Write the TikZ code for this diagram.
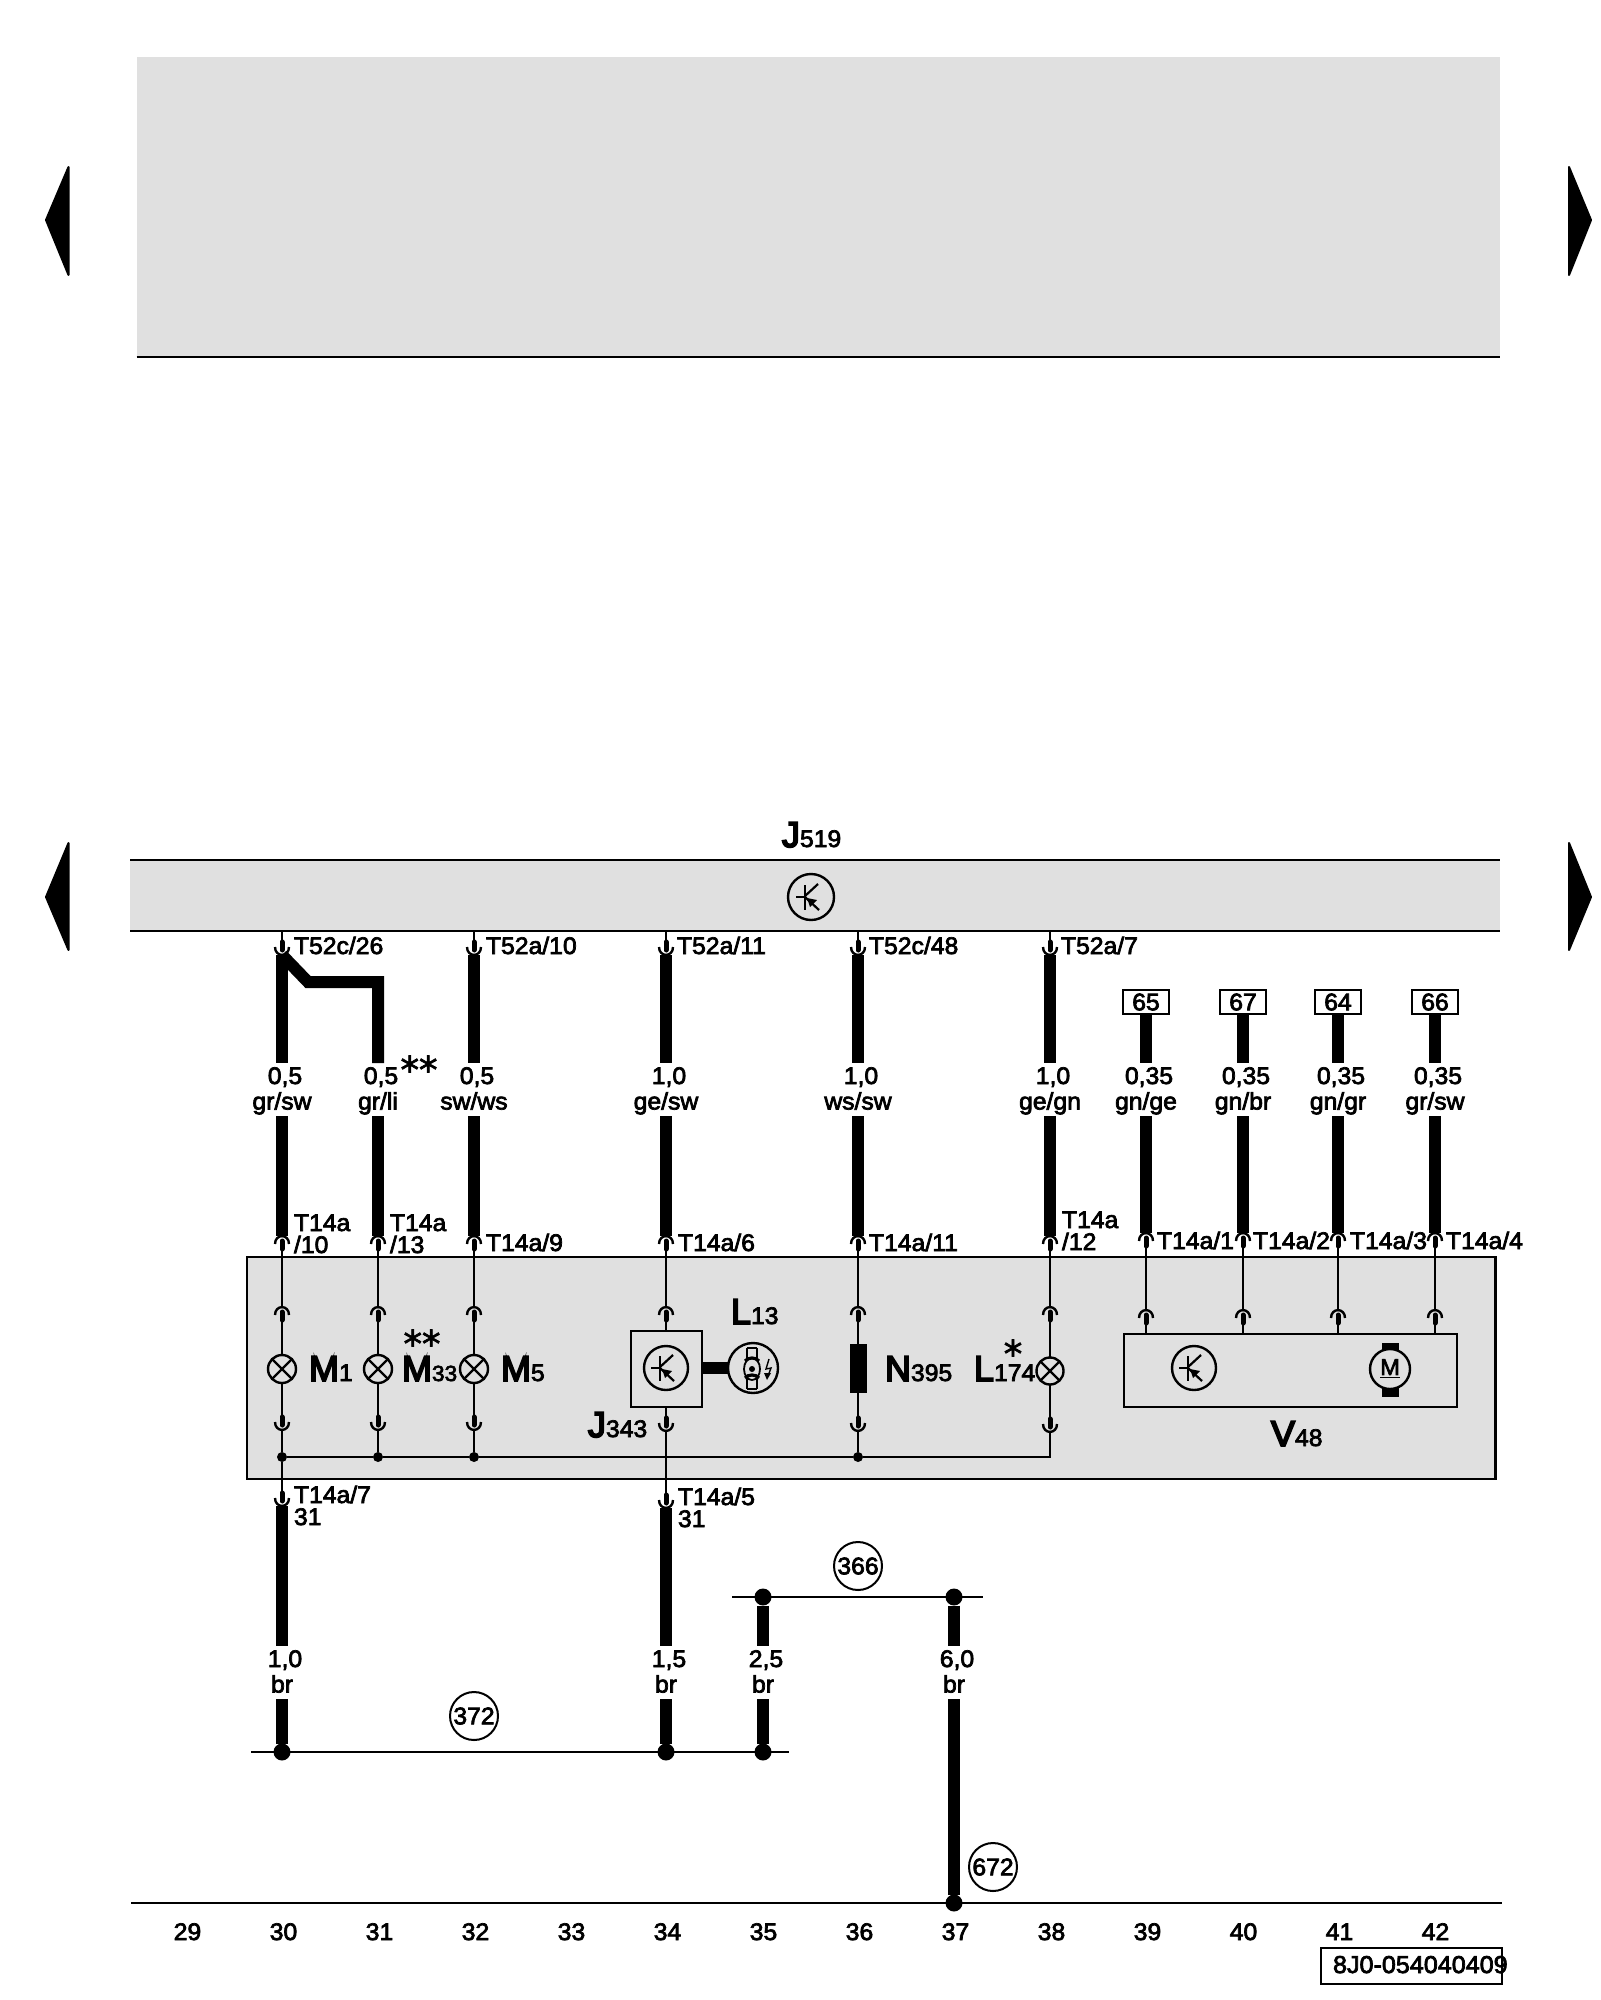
\documentclass[tikz,border=0pt]{standalone}
\usepackage{fontspec}
\setmainfont{Liberation Sans}
\newfontfamily\labf{Liberation Sans}[FakeBold=3,FakeStretch=1.03]
\newfontfamily\bigf{Liberation Sans}[FakeBold=5]
\newfontfamily\starf{DejaVu Sans}[FakeBold=2]
\definecolor{panel}{HTML}{E0E0E0}
\tikzset{
  hv/.style={line width=6pt,line cap=butt,line join=miter,black},
  fine/.style={line width=1pt,black},
  frame/.style={line width=1.1pt,black},
  pinbox/.style={inner sep=0pt,outer sep=0pt,minimum width=7pt,minimum height=7.5pt},
  pinarc/.style={line width=1.2pt,black},
  pinstub/.style={line width=2.5pt,black,line cap=round},
  lbl/.style={inner sep=0pt,outer sep=0pt,anchor=base west,font=\labf\fontsize{12}{13}\selectfont},
  ctr/.style={inner sep=0pt,outer sep=0pt,anchor=base,font=\labf\fontsize{12}{13}\selectfont},
  gaugebox/.style={inner sep=0pt,outer sep=0pt,minimum width=36pt,minimum height=26.5pt,font=\labf\fontsize{12}{13}\selectfont},
  lamp/.style={circle,draw,line width=1.2pt,inner sep=0pt,outer sep=0pt,minimum size=14pt,
    path picture={\draw[line width=1.1pt] (path picture bounding box.north west)--(path picture bounding box.south east)
      (path picture bounding box.north east)--(path picture bounding box.south west);}},
  tran/.style={circle,draw,line width=1.2pt,inner sep=0pt,outer sep=0pt,minimum size=22pt},
  junc/.style={circle,fill=black,inner sep=0pt,outer sep=0pt,minimum size=5pt},
  bigdot/.style={circle,fill=black,inner sep=0pt,outer sep=0pt,minimum size=8.5pt},
  refc/.style={circle,draw,line width=1pt,inner sep=0pt,outer sep=0pt,minimum size=24pt,font=\labf\fontsize{12}{13}\selectfont},
  tag/.style={draw,line width=1pt,inner sep=0pt,outer sep=0pt,minimum width=23pt,minimum height=12pt,font=\labf\fontsize{12}{13}\selectfont},
  bigl/.style={inner sep=0pt,outer sep=0pt,anchor=base west},
  stars/.style={inner sep=0pt,outer sep=0pt,anchor=base,font=\starf\fontsize{18.5}{20}\selectfont},
  nav/.style={fill=black,draw=black,line width=1pt,line join=round},
}
% #1 name, #2 x, #3 y of arch top
\newcommand\pinup[3]{%
  \node[pinbox] (#1) at (#2,#3+7.5) {};
  \draw[pinarc] (#2-7,#3+8) .. controls (#2-7,#3-2.5) and (#2+7,#3-2.5) .. (#2+7,#3+8);
  \draw[pinstub] (#2,#3+5) -- (#2,#3+13);
}
% #1 name, #2 x, #3 y of arc bottom
\newcommand\pindn[3]{%
  \node[pinbox] (#1) at (#2,#3-7.5) {};
  \draw[pinarc] (#2-7,#3-8) .. controls (#2-7,#3+2.5) and (#2+7,#3+2.5) .. (#2+7,#3-8);
  \draw[pinstub] (#2,#3-13) -- (#2,#3-5);
}
% #1 name, #2 x, #3 y top, #4 upper text, #5 lower text
\newcommand\gauge[5]{%
  \node[gaugebox] (#1) at (#2,#3+26.5) {\vbox to 26.5pt{\offinterlineskip\vskip 10.5pt
    \hbox to 36pt{\hss\kern3pt\smash{#4}\hss}\vskip 12.75pt
    \hbox to 36pt{\hss\smash{#5}\hss}\vss}};
}
\newcommand\biglab[6][12]{%
  \node[bigl] (#2) at (#3,#4) {{\bigf\fontsize{18}{20}\selectfont #5}{\labf\fontsize{#1}{13}\selectfont #6}};
}
% transistor glyph inside a circle centred on #1,#2
\newcommand\trans[2]{%
  \draw[line width=1.1pt] (#1-15,#2) -- (#1-6,#2);
  \draw[line width=1.1pt] (#1-6,#2-12) -- (#1-6,#2+13);
  \draw[line width=1.1pt] (#1-6,#2-1) -- (#1+7,#2-13);
  \draw[line width=1.1pt] (#1-6,#2) -- (#1+8,#2+13);
  \fill (#1-4,#2+1) -- (#1+6,#2+3) -- (#1-1,#2+10) -- cycle;
}
\begin{document}
\begin{tikzpicture}[x=0.5pt,y=-0.5pt]
\useasboundingbox (0,0) rectangle (1600,2000);
% panels
\fill[panel] (136.5,57) rectangle (1500,357);
\draw[frame] (136.5,357) -- (1500,357);
\fill[panel] (130,860) rectangle (1500,931);
\draw[frame] (130,860) -- (1500,860) (130,931) -- (1500,931);
\draw[frame,fill=panel] (247,1257) rectangle (1495.5,1479);
% page arrows
\draw[nav] (68.5,167) -- (46,220) -- (68.5,275) -- cycle;
\draw[nav] (68.5,843) -- (46,897) -- (68.5,950) -- cycle;
\draw[nav] (1569,167) -- (1591,220) -- (1569,275) -- cycle;
\draw[nav] (1569,843) -- (1591,897) -- (1569,950) -- cycle;
% J519
\biglab{J519}{782}{847}{J}{519}
\node[tran,minimum size=23pt] (jt) at (811,897) {};
\trans{811}{897}
% upper connector row
\pindn{a1}{282}{955} \pindn{a3}{474}{955} \pindn{a4}{666}{955} \pindn{a5}{858}{955} \pindn{a6}{1050}{955}
\coordinate (s1) at (282,931); \coordinate (s3) at (474,931); \coordinate (s4) at (666,931);
\coordinate (s5) at (858,931); \coordinate (s6) at (1050,931);
\foreach \n in {1,3,4,5,6} {\draw[fine] (s\n) -- (a\n.north);}
\node[lbl] (ta1) at (294,954) {T52c/26};
\node[lbl] (ta3) at (486,954) {T52a/10};
\node[lbl] (ta4) at (677,954) {T52a/11};
\node[lbl] (ta5) at (869,954) {T52c/48};
\node[lbl] (ta6) at (1061,954) {T52a/7};
% tags
\node[tag] (k1) at (1146,1002) {65};
\node[tag] (k2) at (1243,1002) {67};
\node[tag] (k3) at (1338,1002) {64};
\node[tag] (k4) at (1435,1002) {66};
% gauges
\gauge{g1}{282}{1063}{0,5}{gr/sw}
\gauge{g2}{378}{1063}{0,5}{gr/li}
\gauge{g3}{474}{1063}{0,5}{sw/ws}
\gauge{g4}{666}{1063}{1,0}{ge/sw}
\gauge{g5}{858}{1063}{1,0}{ws/sw}
\gauge{g6}{1050}{1063}{1,0}{ge/gn}
\gauge{g7}{1146}{1063}{0,35}{gn/ge}
\gauge{g8}{1243}{1063}{0,35}{gn/br}
\gauge{g9}{1338}{1063}{0,35}{gn/gr}
\gauge{g10}{1435}{1063}{0,35}{gr/sw}
\node[stars] (st1) at (419,1083) {**};
% T14a connector row
\pinup{b1}{282}{1236} \pinup{b2}{378}{1236} \pinup{b3}{474}{1236} \pinup{b4}{666}{1236} \pinup{b5}{858}{1236} \pinup{b6}{1050}{1236}
\pinup{b7}{1146}{1233} \pinup{b8}{1243}{1233} \pinup{b9}{1338}{1233} \pinup{b10}{1435}{1233}
% thick wires, upper
\coordinate (kink) at (308,982); \coordinate (elbow) at (378,982);
\draw[hv] (a1.south) -- (g1.north);
\draw[hv] (a1.south) -- (kink) -- (elbow) -- (g2.north);
\draw[hv] (a3.south) -- (g3.north);
\draw[hv] (a4.south) -- (g4.north);
\draw[hv] (a5.south) -- (g5.north);
\draw[hv] (a6.south) -- (g6.north);
\draw[hv] (k1.south) -- (g7.north);
\draw[hv] (k2.south) -- (g8.north);
\draw[hv] (k3.south) -- (g9.north);
\draw[hv] (k4.south) -- (g10.north);
\foreach \n in {1,...,10} {\draw[hv] (g\n.south) -- (b\n.north);}
% T14a labels
\node[lbl] (c1) at (294,1231) {T14a}; \node[lbl] (c1b) at (294,1253) {/10};
\node[lbl] (c2) at (390,1231) {T14a}; \node[lbl] (c2b) at (390,1253) {/13};
\node[lbl] (c3) at (486,1251) {T14a/9};
\node[lbl] (c4) at (678,1251) {T14a/6};
\node[lbl] (c5) at (869,1251) {T14a/11};
\node[lbl] (c6) at (1062,1228) {T14a}; \node[lbl] (c6b) at (1062,1250) {/12};
\node[lbl] (c7) at (1157,1249) {T14a/1};
\node[lbl] (c8) at (1253,1249) {T14a/2};
\node[lbl] (c9) at (1350,1249) {T14a/3};
\node[lbl] (c10) at (1446,1249) {T14a/4};
% inner pins
\pinup{d1}{282}{1307} \pinup{d2}{378}{1307} \pinup{d3}{474}{1307} \pinup{d4}{666}{1307} \pinup{d5}{858}{1307} \pinup{d6}{1050}{1307}
\pinup{d7}{1146}{1310} \pinup{d8}{1243}{1310} \pinup{d9}{1338}{1310} \pinup{d10}{1435}{1310}
\foreach \n in {1,...,10} {\draw[fine] (b\n.south) -- (d\n.north);}
% lamps
\node[lamp] (m1) at (282,1369) {};
\node[lamp] (m2) at (378,1369) {};
\node[lamp] (m3) at (474,1369) {};
\node[lamp,minimum size=13.5pt] (m6) at (1050,1371) {};
% N395
\node[fill=black,inner sep=0pt,outer sep=0pt,minimum width=8.5pt,minimum height=24.5pt] (m5) at (858,1368.5) {};
% J343
\node[draw,line width=1.2pt,inner sep=0pt,outer sep=0pt,minimum width=35.5pt,minimum height=38pt] (jbox) at (666.5,1369) {};
\node[tran] (jc) at (666,1368) {};
\trans{666}{1368}
% L13 lamp symbol
\node[circle,draw,line width=1.2pt,inner sep=0pt,outer sep=0pt,minimum size=25pt] (l13) at (753,1368) {};
\draw[line width=6pt] (jbox.east |- l13) -- (l13.west);
\draw[line width=.8pt] (747,1348) -- (747,1360) (757,1348) -- (757,1360) (747,1376) -- (747,1389) (757,1376) -- (757,1389) (747,1348) -- (757,1348) (747,1389) -- (757,1389);
\draw[line width=.9pt] (752,1369) ellipse [x radius=4pt,y radius=5.5pt];
\draw[line width=1.6pt] (745,1361) .. controls (748,1357) and (756,1357) .. (759,1361);
\draw[line width=1.6pt] (745,1378) .. controls (748,1374) and (756,1374) .. (759,1378);
\fill (752,1369) circle [radius=1.5pt];
\draw[line width=.7pt] (769,1359) -- (766,1369) -- (771,1368) -- (768,1376);
\fill (764,1373) -- (771,1373) -- (767,1380) -- cycle;
% V48
\node[draw,line width=1.2pt,inner sep=0pt,outer sep=0pt,minimum width=166.5pt,minimum height=36.5pt] (vbox) at (1290.5,1370.5) {};
\node[tran] (vt) at (1194,1368) {};
\trans{1194}{1368}
\fill (1381.5,1343) rectangle (1398.5,1397);
\node[circle,draw,fill=panel,line width=1.2pt,inner sep=0pt,outer sep=0pt,minimum size=20pt,font=\labf\fontsize{11.5}{13}\selectfont] (vm) at (1390,1369) {\underline{M}};
% inner thin wires
\foreach \n in {1,2,3,5,6} {\draw[fine] (d\n.south) -- (m\n.north);}
\draw[fine] (d4.south) -- (jbox.north -| d4);
\foreach \n in {7,8,9,10} {\draw[fine] (d\n.south) -- (vbox.north -| d\n);}
% lower inner pins
\pindn{e1}{282}{1430} \pindn{e2}{378}{1430} \pindn{e3}{474}{1430} \pindn{e4}{666}{1431} \pindn{e5}{858}{1431} \pindn{e6}{1050}{1432}
\foreach \n in {1,2,3,5,6} {\draw[fine] (m\n.south) -- (e\n.north);}
\draw[fine] (jbox.south -| e4) -- (e4.north);
% bus
\node[junc] (j1) at (282,1457) {};
\node[junc] (j2) at (378,1457) {};
\node[junc] (j3) at (474,1457) {};
\node[junc] (j5) at (858,1457) {};
\coordinate (jc6) at (1050,1457);
\draw[fine] (j1) -- (j2) -- (j3) -- (j5) -- (jc6) -- (e6.south);
\draw[fine] (e1.south) -- (j1); \draw[fine] (e2.south) -- (j2); \draw[fine] (e3.south) -- (j3); \draw[fine] (e5.south) -- (j5);
% lower connectors
\pindn{f1}{282}{1506} \pindn{f4}{666}{1508}
\draw[fine] (j1) -- (f1.north);
\draw[fine] (e4.south) -- (f4.north);
\node[lbl] (h1) at (294,1503) {T14a/7}; \node[lbl] (h1b) at (294,1525) {31};
\node[lbl] (h4) at (678,1505) {T14a/5}; \node[lbl] (h4b) at (678,1527) {31};
% component labels
\biglab{lm1}{309}{1381}{M}{1}
\biglab[11]{lm33}{402}{1381}{M}{33}
\biglab{lm5}{501}{1381}{M}{5}
\biglab{ll13}{731}{1324}{L}{13}
\biglab{lj343}{588}{1437}{J}{343}
\biglab{ln395}{885}{1381}{N}{395}
\biglab{ll174}{974}{1381}{L}{174}
\biglab{lv48}{1271}{1446}{V}{48}
\node[stars] (st2) at (422,1357) {**};
\node[stars] (st3) at (1013,1367) {*};
% lower rails
\coordinate (r1a) at (251,1752); \coordinate (r1b) at (789,1752);
\coordinate (r2a) at (732,1597); \coordinate (r2b) at (983,1597);
\coordinate (r3a) at (131,1903); \coordinate (r3b) at (1501.5,1903);
\draw[fine] (r1a) -- (r1b);
\draw[fine] (r2a) -- (r2b);
\draw[fine] (r3a) -- (r3b);
\node[bigdot] (p1) at (282,1752) {};
\node[bigdot] (p2) at (666,1752) {};
\node[bigdot] (p3) at (763,1752) {};
\node[bigdot] (p4) at (763,1597) {};
\node[bigdot] (p5) at (954,1597) {};
\node[bigdot] (p6) at (954,1903) {};
\gauge{u1}{282}{1646}{1,0}{br}
\gauge{u2}{666}{1646}{1,5}{br}
\gauge{u3}{763}{1646}{2,5}{br}
\gauge{u4}{954}{1646}{6,0}{br}
\draw[hv] (f1.south) -- (u1.north);
\draw[hv] (f4.south) -- (u2.north);
\draw[hv] (p4) -- (u3.north);
\draw[hv] (p5) -- (u4.north);
\draw[hv] (u1.south) -- (p1);
\draw[hv] (u2.south) -- (p2);
\draw[hv] (u3.south) -- (p3);
\draw[hv] (u4.south) -- (p6);
\node[refc] (n372) at (474,1716) {372};
\node[refc] (n366) at (858,1566) {366};
\node[refc] (n672) at (993,1867) {672};
% column numbers
\foreach \v [count=\i from 0] in {29,...,42} {\node[ctr] (col\v) at ({187.5+96*\i},1940) {\v};}
% stamp
\node[draw,line width=1pt,inner sep=0pt,outer sep=0pt,minimum width=90.25pt,minimum height=18pt] (stampbox) at (1411.25,1966) {};
\node[lbl,font=\labf\fontsize{12.2}{13}\selectfont] (stamp) at (1333,1973) {8J0-054040409};
\end{tikzpicture}
\end{document}
